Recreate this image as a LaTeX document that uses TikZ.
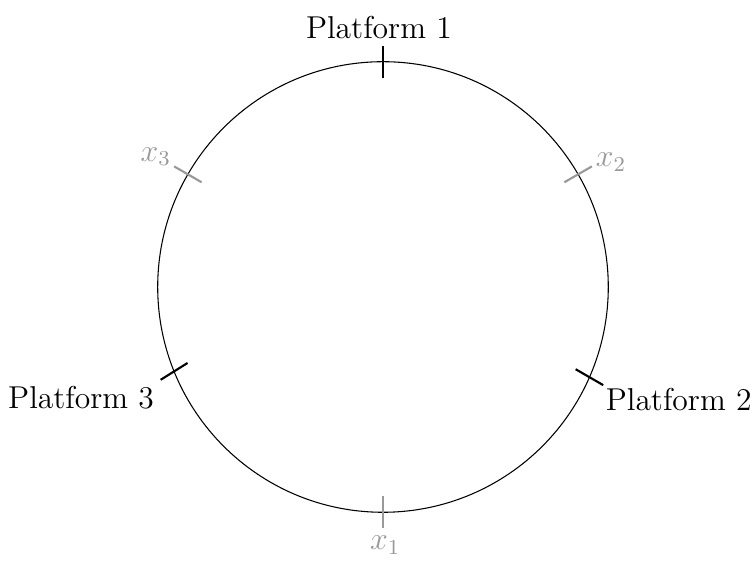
\documentclass[tikz,border=0pt]{standalone}
\begin{document}
\begin{tikzpicture}
  \tikzset{
    lbl/.style={font=\fontsize{11.9}{14.3}\selectfont},
    ptick/.style={thick, black},
    xtick/.style={thick, black!40},
    xlbl/.style={lbl, text=black!40}
  }
  \useasboundingbox (-5.066,-3.638) rectangle (4.934,3.796);
  \draw (0,0) circle (2.98);

  % platforms
  \coordinate (P1) at (90:2.98);
  \coordinate (P2) at (-23.6:2.98);
  \coordinate (P3) at (202:2.98);
  \draw[ptick] (P1) ++(90:0.21) coordinate (P1o) -- ++(-90:0.42);
  \draw[ptick] (P2) ++(-30:0.21) coordinate (P2o) -- ++(150:0.42);
  \draw[ptick] (P3) ++(212:0.21) coordinate (P3o) -- ++(32:0.42);
  \node[lbl, anchor=south, inner sep=2.3pt, xshift=-0.053cm] (L1) at (P1o) {Platform 1};
  \node[lbl, anchor=north west, inner sep=0.8pt] (L2) at (P2o) {Platform 2};
  \node[lbl, anchor=north east, inner sep=2.3pt] (L3) at (P3o) {Platform 3};

  % points x_i
  \coordinate (X1) at (270:2.98);
  \coordinate (X2) at (30:2.98);
  \coordinate (X3) at (150:2.98);
  \draw[xtick] (X1) ++(270:0.21) coordinate (X1o) -- ++(90:0.42);
  \draw[xtick] (X2) ++(30:0.21) coordinate (X2o) -- ++(210:0.42);
  \draw[xtick] (X3) ++(150:0.21) coordinate (X3o) -- ++(330:0.42);
  \node[xlbl, anchor=north, inner sep=2.8pt, xshift=0.03cm] (N1) at (X1o) {$x_1$};
  \node[xlbl, anchor=base west, inner sep=1.3pt] (N2) at (X2o) {$x_2$};
  \node[xlbl, anchor=base east, inner sep=1pt, yshift=0.07cm] (N3) at (X3o) {$x_3$};
\end{tikzpicture}
\end{document}
